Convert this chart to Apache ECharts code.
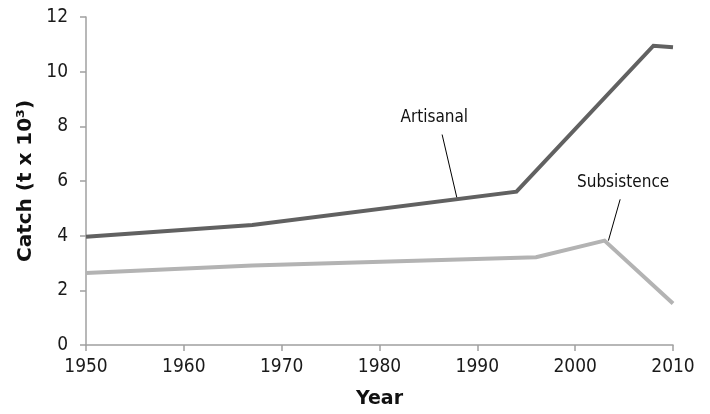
<!DOCTYPE html>
<html>
<head>
<meta charset="utf-8">
<script src="https://cdn.jsdelivr.net/npm/echarts@6/dist/echarts.min.js"></script>
<style>
html, body { margin: 0; padding: 0; background: #fff; }
#chart { width: 710px; height: 414px; }
</style>
</head>
<body>
<div id="chart"></div>
<script>
// 数据
var artisanalYears = [1950, 1967, 1994, 2008, 2010];
var artisanalValues = [3.96, 4.39, 5.61, 10.95, 10.89];
var subsistenceYears = [1950, 1967, 1996, 2003, 2010];
var subsistenceValues = [2.63, 2.91, 3.21, 3.82, 1.52];

function pairs(xs, ys) {
    var out = [];
    for (var i = 0; i < xs.length; i++) {
        out.push([xs[i], ys[i]]);
    }
    return out;
}

var chart = echarts.init(document.getElementById('chart'), null, { renderer: 'canvas' });
var font = '"DejaVu Sans Condensed", "DejaVu Sans", sans-serif';
var boldFont = '"DejaVu Sans", Verdana, sans-serif';

var option = {
    backgroundColor: '#fff',
    animation: false,
    textStyle: { fontFamily: font },
    grid: { left: 86, right: 37, top: 17, bottom: 67 },
    xAxis: {
        type: 'value',
        min: 1950,
        max: 2010,
        interval: 10,
        name: 'Year',
        nameLocation: 'middle',
        nameGap: 45,
        nameTextStyle: { fontFamily: boldFont, fontSize: 19, fontWeight: 'bold', color: '#111' },
        axisLine: { lineStyle: { color: '#a0a0a0', width: 1.5 } },
        axisTick: { show: true, length: 6, lineStyle: { color: '#a0a0a0', width: 1.5 } },
        axisLabel: {
            fontFamily: font, fontSize: 19, color: '#1a1a1a', margin: 13,
            formatter: function (v) { return String(v); }
        },
        splitLine: { show: false }
    },
    yAxis: {
        type: 'value',
        min: 0,
        max: 12,
        interval: 2,
        name: 'Catch (t x 10³)',
        nameLocation: 'middle',
        nameGap: 35,
        nameTextStyle: { fontFamily: boldFont, fontSize: 20, fontWeight: 'bold', color: '#111' },
        axisLine: { show: true, lineStyle: { color: '#a0a0a0', width: 1.5 } },
        axisTick: { show: true, length: 6, lineStyle: { color: '#a0a0a0', width: 1.5 } },
        axisLabel: { fontFamily: font, fontSize: 19, color: '#1a1a1a', margin: 18 },
        splitLine: { show: false }
    },
    series: [
        {
            name: 'Artisanal',
            type: 'line',
            data: pairs(artisanalYears, artisanalValues),
            showSymbol: false,
            lineStyle: { color: '#616161', width: 4, join: 'miter' },
            markLine: {
                silent: true,
                symbol: 'none',
                label: { show: false },
                lineStyle: { color: '#000', width: 1, type: 'solid' },
                data: [[{ coord: [1986.4, 7.7] }, { coord: [1987.9, 5.4] }]]
            },
            markPoint: {
                silent: true,
                symbol: 'circle',
                symbolSize: 0,
                label: { show: true, position: 'inside', formatter: 'Artisanal', fontFamily: font, fontSize: 17, color: '#111' },
                data: [{ coord: [1985.6, 8.31] }]
            }
        },
        {
            name: 'Subsistence',
            type: 'line',
            data: pairs(subsistenceYears, subsistenceValues),
            showSymbol: false,
            lineStyle: { color: '#b3b3b3', width: 4, join: 'miter' },
            markLine: {
                silent: true,
                symbol: 'none',
                label: { show: false },
                lineStyle: { color: '#000', width: 1, type: 'solid' },
                data: [[{ coord: [2004.6, 5.33] }, { coord: [2003.4, 3.82] }]]
            },
            markPoint: {
                silent: true,
                symbol: 'circle',
                symbolSize: 0,
                label: { show: true, position: 'inside', formatter: 'Subsistence', fontFamily: font, fontSize: 17, color: '#111' },
                data: [{ coord: [2004.9, 5.96] }]
            }
        }
    ]
};
chart.setOption(option);
</script>
</body>
</html>
